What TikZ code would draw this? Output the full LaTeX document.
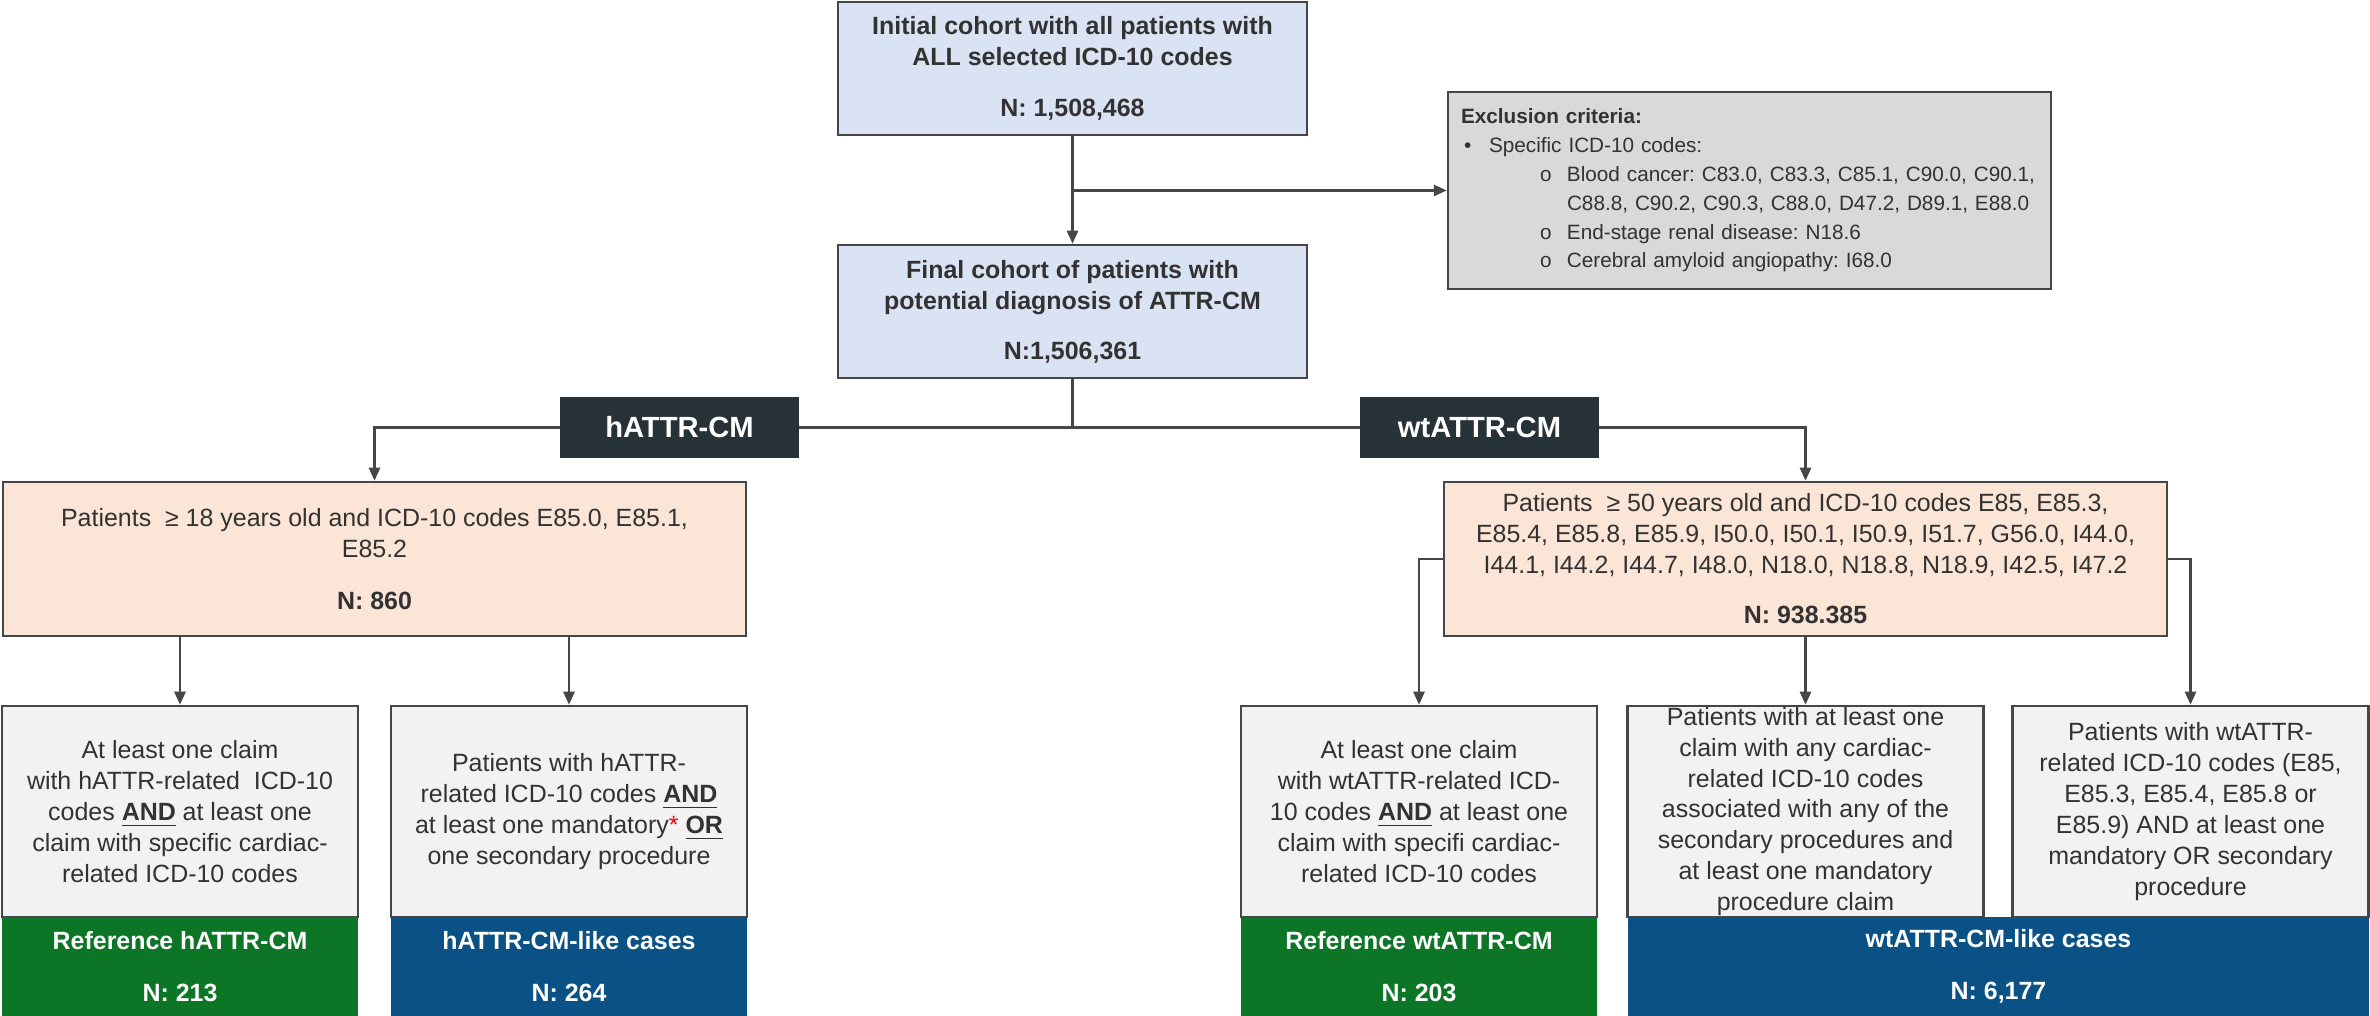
\documentclass[tikz,border=0pt]{standalone}
\usepackage{fontspec}
\setmainfont{Liberation Sans}
\usepackage{xcolor}
\definecolor{txt}{RGB}{50,50,50}
\definecolor{edge}{RGB}{68,70,72}
\definecolor{cohort}{RGB}{218,227,243}
\definecolor{peach}{RGB}{251,229,214}
\definecolor{exclgray}{RGB}{217,217,217}
\definecolor{critgray}{RGB}{242,242,242}
\definecolor{slate}{RGB}{38,50,56}
\definecolor{refgreen}{RGB}{12,117,38}
\definecolor{likeblue}{RGB}{10,82,134}
\usepackage{tikz}
\usetikzlibrary{arrows.meta,backgrounds,positioning,calc}

\begin{document}
\frenchspacing
\begin{tikzpicture}[x=0.1mm,y=-0.1mm,
        every node/.style={inner sep=0pt, align=center, text=txt, font=\fontsize{7.1pt}{8.8pt}\selectfont},
        cohortbox/.style={draw=edge, line width=0.25mm, fill=cohort, minimum width=46.9mm, minimum height=13.3mm, font=\fontsize{7.1pt}{8.8pt}\selectfont\bfseries},
        exclbox/.style={draw=edge, line width=0.25mm, fill=exclgray, text width=57.7mm, align=left, inner xsep=1.3mm, minimum height=19.7mm, font=\fontsize{5.9pt}{8.2pt}\selectfont},
        tag/.style={fill=slate, minimum width=23.9mm, minimum height=6.1mm, text=white, font=\fontsize{8.3pt}{9pt}\selectfont\bfseries},
        agebox/.style={draw=edge, line width=0.25mm, fill=peach, minimum height=15.4mm},
        critbox/.style={draw=edge, line width=0.25mm, fill=critgray, minimum width=35.6mm, minimum height=21.1mm},
        refband/.style={fill=refgreen, minimum width=35.6mm, minimum height=9.9mm, text=white, font=\fontsize{7.1pt}{8.8pt}\selectfont\bfseries},
        likeband/.style={fill=likeblue, minimum height=9.9mm, text=white, font=\fontsize{7.1pt}{8.8pt}\selectfont\bfseries},
        link/.style={draw=edge, line width=0.25mm, -{Triangle[length=1.3mm,width=1.1mm]}}]
    \useasboundingbox (0,0) rectangle (2370,1016);

    \node[cohortbox] (init) at (1072.5,68.5) {Initial cohort with all patients with\\ALL selected ICD-10 codes\\[5.7pt]N: 1,508,468};
    \node[cohortbox] (final) at (1072.5,311.5) {Final cohort of patients with\\potential diagnosis of ATTR-CM\\[5.4pt]N:1,506,361};
    \node[exclbox] (excl) at (1749.5,190.5) {\textbf{Exclusion criteria:}\\
        \hspace*{0.3mm}\makebox[2.5mm][l]{•}Specific ICD-10 codes:\\
        \hspace*{7.9mm}\makebox[2.7mm][l]{o}Blood cancer: C83.0, C83.3, C85.1, C90.0, C90.1,\\
        \hspace*{10.6mm}C88.8, C90.2, C90.3, C88.0, D47.2, D89.1, E88.0\\
        \hspace*{7.9mm}\makebox[2.7mm][l]{o}End-stage renal disease: N18.6\\
        \hspace*{7.9mm}\makebox[2.7mm][l]{o}Cerebral amyloid angiopathy: I68.0};

    \node[tag] (hlab) at (679.5,427.5) {hATTR-CM};
    \node[tag] (wlab) at (1479.5,427.5) {wtATTR-CM};

    \node[agebox, minimum width=74.3mm] (hpat) at (374.5,559) {Patients~ ≥ 18 years old and ICD-10 codes E85.0, E85.1,\\E85.2\\[6pt]\textbf{N: 860}};
    \node[agebox, minimum width=72.3mm] (wpat) at (1805.5,559) {Patients~ ≥ 50 years old and ICD-10 codes E85, E85.3,\\E85.4, E85.8, E85.9, I50.0, I50.1, I50.9, I51.7, G56.0, I44.0,\\I44.1, I44.2, I44.7, I48.0, N18.0, N18.8, N18.9, I42.5, I47.2\\[5.5pt]\textbf{N: 938.385}};

    \node[critbox] (hcrit1) at (180,811.5) {At least one claim\\with hATTR-related~ ICD-10\\codes \underline{\textbf{AND}} at least one\\claim with specific cardiac-\\related ICD-10 codes};
    \node[refband] (href) at (180,966.5) {Reference hATTR-CM\\[6pt]N: 213};
    \node[critbox] (hcrit2) at (569,811.5) {Patients with hATTR-\\related ICD-10 codes \underline{\textbf{AND}}\\at least one mandatory{\color{red}*} \underline{\textbf{OR}}\\one secondary procedure};
    \node[likeband, minimum width=35.6mm] (hlike) at (569,966.5) {hATTR-CM-like cases\\[6pt]N: 264};

    \node[critbox] (wcrit1) at (1419,811.5) {At least one claim\\with wtATTR-related ICD-\\10 codes \underline{\textbf{AND}} at least one\\claim with specifi cardiac-\\related ICD-10 codes};
    \node[refband] (wref) at (1419,966.5) {Reference wtATTR-CM\\[6pt]N: 203};
    \node[critbox] (wcrit2) at (1805.5,811.5) {Patients with at least one\\claim with any cardiac-\\related ICD-10 codes\\associated with any of the\\secondary procedures and\\at least one mandatory\\procedure claim};
    \node[critbox] (wcrit3) at (2190.5,811.5) {Patients with wtATTR-\\related ICD-10 codes (E85,\\E85.3, E85.4, E85.8 or\\E85.9) AND at least one\\mandatory OR secondary\\procedure};
    \node[likeband, minimum width=74.1mm] (wlike) at (1998.5,966.5) {wtATTR-CM-like cases\\[6pt]N: 6,177};

    \begin{scope}[on background layer]
        \draw[link] (init) -- (final);
        \draw[link] (init.south |- excl.west) -- (excl.west);
        \draw[link] (final.south) -- (final.south |- hlab.center) -| (hpat.north);
        \draw[link] (final.south |- hlab.center) -| (wpat.north);
        \draw[link] (hpat.south -| hcrit1.north) -- (hcrit1.north);
        \draw[link] (hpat.south -| hcrit2.north) -- (hcrit2.north);
        \draw[link] (wpat.west) -| (wcrit1.north);
        \draw[link] (wpat.south) -- (wcrit2.north);
        \draw[link] (wpat.east) -| (wcrit3.north);
    \end{scope}
\end{tikzpicture}
\end{document}
